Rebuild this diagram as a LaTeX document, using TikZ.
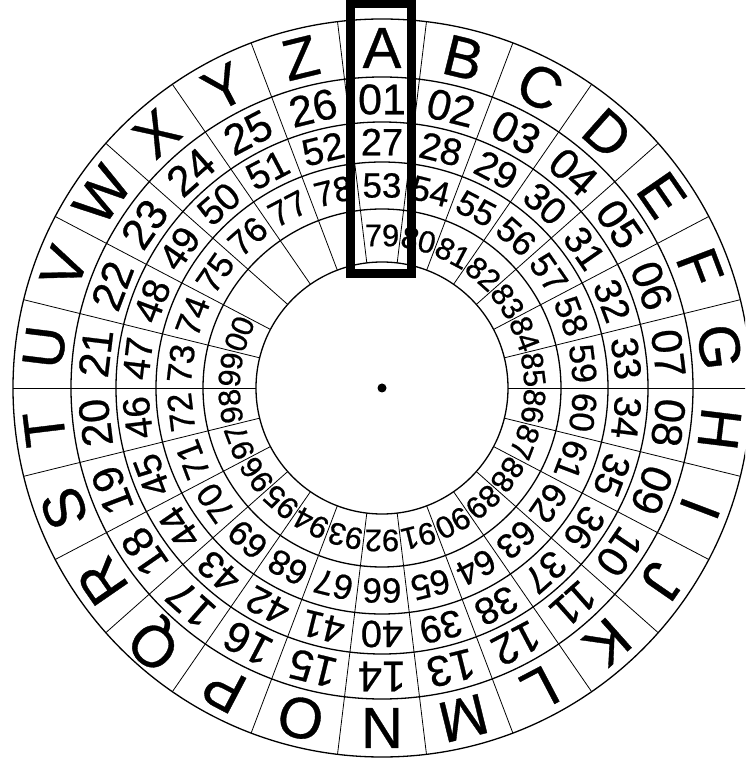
\documentclass[tikz,border=0pt]{standalone}
\usepackage{fontspec}
\setmainfont{Liberation Sans}[FakeBold=0.6]
\begin{document}
\begin{tikzpicture}[x=1pt,y=1pt,
  ring/.style={line width=1.3pt},
  spoke/.style={line width=0.8pt},
  lab/.style={inner sep=0pt, anchor=center},
  frame/.style={line width=9pt}]
\def\sa{13.846153846}
\useasboundingbox (-382,-377) rectangle (363,388);
\clip (-382,-377) rectangle (363,388);
% rings
\foreach \r in {126,179,226,266,311,369}
  \draw[ring] (0,0) circle (\r);
% spokes
\foreach \k in {0,...,25}
  \draw[spoke] ({90-\sa/2-\k*\sa}:126) -- ({90-\sa/2-\k*\sa}:369);
% letters
\foreach \t [count=\i from 0] in {A,B,C,D,E,F,G,H,I,J,K,L,M,N,O,P,Q,R,S,T,U,V,W,X,Y,Z}
  \node[lab, font=\fontsize{58}{58}\selectfont, rotate={-\i*\sa}] (L\i) at ({90-\i*\sa}:340) {\t};
% ring 2
\foreach \t [count=\i from 0] in {01,02,03,04,05,06,07,08,09,10,11,12,13,14,15,16,17,18,19,20,21,22,23,24,25,26}
  \node[lab, font=\fontsize{43}{43}\selectfont, rotate={-\i*\sa}] (B\i) at ({90-\i*\sa}:288.5) {\t};
% ring 3
\foreach \t [count=\i from 0] in {27,28,29,30,31,32,33,34,35,36,37,38,39,40,41,42,43,44,45,46,47,48,49,50,51,52}
  \node[lab, font=\fontsize{38}{38}\selectfont, rotate={-\i*\sa}] (C\i) at ({90-\i*\sa}:246) {\t};
% ring 4
\foreach \t [count=\i from 0] in {53,54,55,56,57,58,59,60,61,62,63,64,65,66,67,68,69,70,71,72,73,74,75,76,77,78}
  \node[lab, font=\fontsize{35}{35}\selectfont, rotate={-\i*\sa}] (D\i) at ({90-\i*\sa}:202.5) {\t};
% ring 5
\foreach \t [count=\i from 0] in {79,80,81,82,83,84,85,86,87,88,89,90,91,92,93,94,95,96,97,98,99,00}
  \node[lab, font=\fontsize{31}{31}\selectfont, rotate={-\i*\sa}] (E\i) at ({90-\i*\sa}:152.5) {\t};
% centre dot
\node[circle, fill=black, inner sep=0pt, minimum size=9pt] (ctr) at (0,0) {};
% window frame
\draw[frame] (-31.5,114.5) rectangle (29.5,384.5);
\end{tikzpicture}
\end{document}
